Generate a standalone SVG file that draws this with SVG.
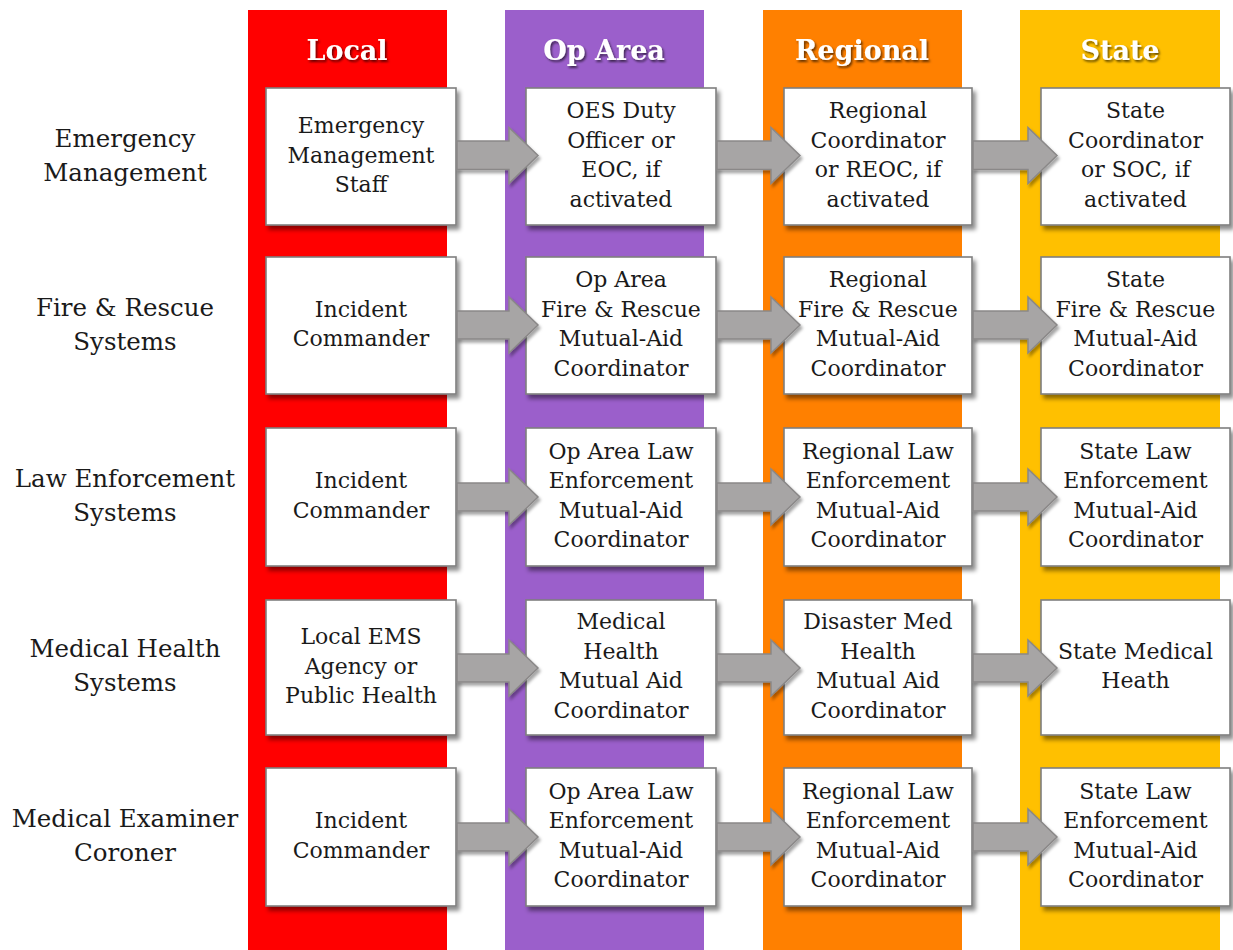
<svg xmlns="http://www.w3.org/2000/svg" width="1233" height="950" viewBox="0 0 1233 950">
<defs>
<filter id="bshadow" x="-10%" y="-10%" width="130%" height="130%">
<feDropShadow dx="3" dy="4" stdDeviation="2.2" flood-color="#000" flood-opacity="0.45"/>
</filter>
<filter id="ashadow" x="-10%" y="-10%" width="130%" height="140%">
<feDropShadow dx="2" dy="3" stdDeviation="1.8" flood-color="#000" flood-opacity="0.35"/>
</filter>
<filter id="tshadow" x="-10%" y="-20%" width="130%" height="160%">
<feDropShadow dx="1.5" dy="2" stdDeviation="1" flood-color="#000" flood-opacity="0.6"/>
</filter>
</defs>
<style>
.col{stroke:none}
.hdr{font-family:"DejaVu Serif","Liberation Serif",serif;font-weight:bold;font-size:27px;fill:#fff;text-anchor:middle;filter:url(#tshadow)}
.box{fill:#fff;stroke:#7f7f7f;stroke-width:1.6;filter:url(#bshadow)}
.bt{font-family:"DejaVu Serif","Liberation Serif",serif;font-size:22px;fill:#1a1a1a;text-anchor:middle}
.rl{font-family:"DejaVu Serif","Liberation Serif",serif;font-size:24.5px;fill:#1a1a1a;text-anchor:middle}
.arr{fill:#a7a5a5;stroke:#8a8888;stroke-width:1.5;filter:url(#ashadow)}
</style>
<rect width="1233" height="950" fill="#fff"/>
<g id="columns">
<rect class="col" x="248" y="10" width="199" height="940" fill="#ff0000"/>
<rect class="col" x="505" y="10" width="199" height="940" fill="#9b5fcb"/>
<rect class="col" x="763" y="10" width="199" height="940" fill="#ff8000"/>
<rect class="col" x="1020" y="10" width="200" height="940" fill="#ffc000"/>
<text class="hdr" x="347" y="60">Local</text>
<text class="hdr" x="604" y="60">Op Area</text>
<text class="hdr" x="862" y="60">Regional</text>
<text class="hdr" x="1120" y="60">State</text>
</g>
<g id="row-labels">
<text class="rl" x="125" y="147">Emergency</text>
<text class="rl" x="125" y="181">Management</text>
<text class="rl" x="125" y="316">Fire &amp; Rescue</text>
<text class="rl" x="125" y="350">Systems</text>
<text class="rl" x="125" y="487">Law Enforcement</text>
<text class="rl" x="125" y="521">Systems</text>
<text class="rl" x="125" y="657">Medical Health</text>
<text class="rl" x="125" y="691">Systems</text>
<text class="rl" x="125" y="827">Medical Examiner</text>
<text class="rl" x="125" y="861">Coroner</text>
</g>
<!-- Row 1 -->
<g id="n-r1-local"><rect class="box" x="266" y="88" width="190" height="137"/>
<text class="bt" x="361"><tspan x="361" y="133">Emergency</tspan><tspan x="361" y="162.5">Management</tspan><tspan x="361" y="192">Staff</tspan></text></g>
<g id="n-r1-op"><rect class="box" x="526" y="88" width="190" height="137"/>
<text class="bt"><tspan x="621" y="118">OES Duty</tspan><tspan x="621" y="147.5">Officer or</tspan><tspan x="621" y="177">EOC, if</tspan><tspan x="621" y="206.5">activated</tspan></text></g>
<g id="n-r1-reg"><rect class="box" x="784" y="88" width="188" height="137"/>
<text class="bt"><tspan x="878" y="118">Regional</tspan><tspan x="878" y="147.5">Coordinator</tspan><tspan x="878" y="177">or REOC, if</tspan><tspan x="878" y="206.5">activated</tspan></text></g>
<g id="n-r1-state"><rect class="box" x="1041" y="88" width="189" height="137"/>
<text class="bt"><tspan x="1135.5" y="118">State</tspan><tspan x="1135.5" y="147.5">Coordinator</tspan><tspan x="1135.5" y="177">or SOC, if</tspan><tspan x="1135.5" y="206.5">activated</tspan></text></g>
<!-- Row 2 -->
<g id="n-r2-local"><rect class="box" x="266" y="257" width="190" height="137"/>
<text class="bt"><tspan x="361" y="316.5">Incident</tspan><tspan x="361" y="346">Commander</tspan></text></g>
<g id="n-r2-op"><rect class="box" x="526" y="257" width="190" height="137"/>
<text class="bt"><tspan x="621" y="287">Op Area</tspan><tspan x="621" y="316.5">Fire &amp; Rescue</tspan><tspan x="621" y="346">Mutual-Aid</tspan><tspan x="621" y="375.5">Coordinator</tspan></text></g>
<g id="n-r2-reg"><rect class="box" x="784" y="257" width="188" height="137"/>
<text class="bt"><tspan x="878" y="287">Regional</tspan><tspan x="878" y="316.5">Fire &amp; Rescue</tspan><tspan x="878" y="346">Mutual-Aid</tspan><tspan x="878" y="375.5">Coordinator</tspan></text></g>
<g id="n-r2-state"><rect class="box" x="1041" y="257" width="189" height="137"/>
<text class="bt"><tspan x="1135.5" y="287">State</tspan><tspan x="1135.5" y="316.5">Fire &amp; Rescue</tspan><tspan x="1135.5" y="346">Mutual-Aid</tspan><tspan x="1135.5" y="375.5">Coordinator</tspan></text></g>
<!-- Row 3 -->
<g id="n-r3-local"><rect class="box" x="266" y="428" width="190" height="138"/>
<text class="bt"><tspan x="361" y="488">Incident</tspan><tspan x="361" y="517.5">Commander</tspan></text></g>
<g id="n-r3-op"><rect class="box" x="526" y="428" width="190" height="138"/>
<text class="bt"><tspan x="621" y="458.5">Op Area Law</tspan><tspan x="621" y="488">Enforcement</tspan><tspan x="621" y="517.5">Mutual-Aid</tspan><tspan x="621" y="547">Coordinator</tspan></text></g>
<g id="n-r3-reg"><rect class="box" x="784" y="428" width="188" height="138"/>
<text class="bt"><tspan x="878" y="458.5">Regional Law</tspan><tspan x="878" y="488">Enforcement</tspan><tspan x="878" y="517.5">Mutual-Aid</tspan><tspan x="878" y="547">Coordinator</tspan></text></g>
<g id="n-r3-state"><rect class="box" x="1041" y="428" width="189" height="138"/>
<text class="bt"><tspan x="1135.5" y="458.5">State Law</tspan><tspan x="1135.5" y="488">Enforcement</tspan><tspan x="1135.5" y="517.5">Mutual-Aid</tspan><tspan x="1135.5" y="547">Coordinator</tspan></text></g>
<!-- Row 4 -->
<g id="n-r4-local"><rect class="box" x="266" y="600" width="190" height="135"/>
<text class="bt"><tspan x="361" y="644">Local EMS</tspan><tspan x="361" y="673.5">Agency or</tspan><tspan x="361" y="703">Public Health</tspan></text></g>
<g id="n-r4-op"><rect class="box" x="526" y="600" width="190" height="135"/>
<text class="bt"><tspan x="621" y="629">Medical</tspan><tspan x="621" y="658.5">Health</tspan><tspan x="621" y="688">Mutual Aid</tspan><tspan x="621" y="717.5">Coordinator</tspan></text></g>
<g id="n-r4-reg"><rect class="box" x="784" y="600" width="188" height="135"/>
<text class="bt"><tspan x="878" y="629">Disaster Med</tspan><tspan x="878" y="658.5">Health</tspan><tspan x="878" y="688">Mutual Aid</tspan><tspan x="878" y="717.5">Coordinator</tspan></text></g>
<g id="n-r4-state"><rect class="box" x="1041" y="600" width="189" height="135"/>
<text class="bt"><tspan x="1135.5" y="659">State Medical</tspan><tspan x="1135.5" y="688">Heath</tspan></text></g>
<!-- Row 5 -->
<g id="n-r5-local"><rect class="box" x="266" y="768" width="190" height="138"/>
<text class="bt"><tspan x="361" y="828">Incident</tspan><tspan x="361" y="857.5">Commander</tspan></text></g>
<g id="n-r5-op"><rect class="box" x="526" y="768" width="190" height="138"/>
<text class="bt"><tspan x="621" y="798.5">Op Area Law</tspan><tspan x="621" y="828">Enforcement</tspan><tspan x="621" y="857.5">Mutual-Aid</tspan><tspan x="621" y="887">Coordinator</tspan></text></g>
<g id="n-r5-reg"><rect class="box" x="784" y="768" width="188" height="138"/>
<text class="bt"><tspan x="878" y="798.5">Regional Law</tspan><tspan x="878" y="828">Enforcement</tspan><tspan x="878" y="857.5">Mutual-Aid</tspan><tspan x="878" y="887">Coordinator</tspan></text></g>
<g id="n-r5-state"><rect class="box" x="1041" y="768" width="189" height="138"/>
<text class="bt"><tspan x="1135.5" y="798.5">State Law</tspan><tspan x="1135.5" y="828">Enforcement</tspan><tspan x="1135.5" y="857.5">Mutual-Aid</tspan><tspan x="1135.5" y="887">Coordinator</tspan></text></g>
<g id="connectors">
<path class="arr" d="M457,141 L509,141 L509,127.5 L538,155.5 L509,183.5 L509,169.5 L457,169.5 Z"/>
<path class="arr" d="M717,141 L771,141 L771,127.5 L800,155.5 L771,183.5 L771,169.5 L717,169.5 Z"/>
<path class="arr" d="M973,141 L1028,141 L1028,127.5 L1057,155.5 L1028,183.5 L1028,169.5 L973,169.5 Z"/>
<path class="arr" d="M457,311 L509,311 L509,297 L538,325 L509,353 L509,339 L457,339 Z"/>
<path class="arr" d="M717,311 L771,311 L771,297 L800,325 L771,353 L771,339 L717,339 Z"/>
<path class="arr" d="M973,311 L1028,311 L1028,297 L1057,325 L1028,353 L1028,339 L973,339 Z"/>
<path class="arr" d="M457,483 L509,483 L509,469 L538,497 L509,525 L509,511 L457,511 Z"/>
<path class="arr" d="M717,483 L771,483 L771,469 L800,497 L771,525 L771,511 L717,511 Z"/>
<path class="arr" d="M973,483 L1028,483 L1028,469 L1057,497 L1028,525 L1028,511 L973,511 Z"/>
<path class="arr" d="M457,654 L509,654 L509,640 L538,668 L509,696 L509,682 L457,682 Z"/>
<path class="arr" d="M717,654 L771,654 L771,640 L800,668 L771,696 L771,682 L717,682 Z"/>
<path class="arr" d="M973,654 L1028,654 L1028,640 L1057,668 L1028,696 L1028,682 L973,682 Z"/>
<path class="arr" d="M457,823 L509,823 L509,809 L538,837 L509,865 L509,851 L457,851 Z"/>
<path class="arr" d="M717,823 L771,823 L771,809 L800,837 L771,865 L771,851 L717,851 Z"/>
<path class="arr" d="M973,823 L1028,823 L1028,809 L1057,837 L1028,865 L1028,851 L973,851 Z"/>
</g>
</svg>
